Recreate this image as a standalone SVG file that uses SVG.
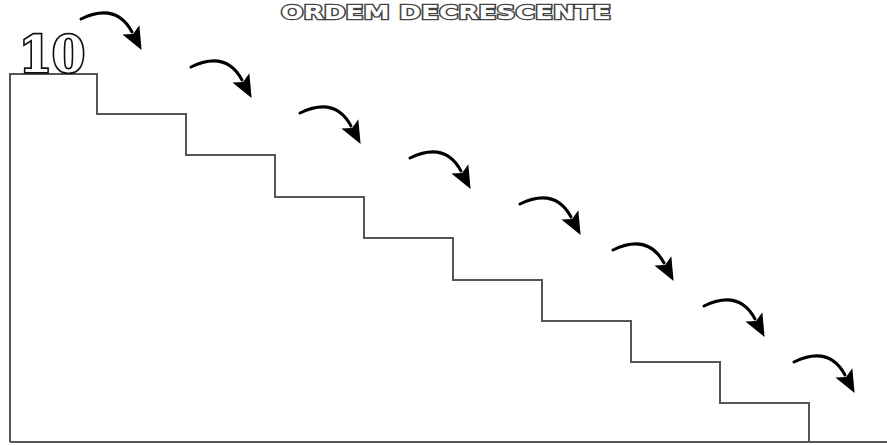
<svg xmlns="http://www.w3.org/2000/svg" width="887" height="445" viewBox="0 0 887 445">
<style>
.stair{fill:none;stroke:#555;stroke-width:2}
.arr{fill:none;stroke:#000;stroke-width:3;stroke-linecap:round}
.title{font-family:"DejaVu Sans",sans-serif;font-weight:bold;fill:#fff;stroke:#444;stroke-width:2.6;paint-order:stroke}
.num{font-family:"DejaVu Serif",serif;font-weight:bold;fill:#fff;stroke:#111;stroke-width:3.5;paint-order:stroke}
</style>
<defs>
<marker id="ah" markerUnits="userSpaceOnUse" markerWidth="24" markerHeight="24" viewBox="0 -10 20 20" refX="2" refY="0" orient="auto">
<path d="M0,-8 L19,0 L0,8 L4,0 Z" fill="#000"/>
</marker>
</defs>
<rect width="887" height="445" fill="#fff"/>
<text class="title" x="446" y="19" font-size="20" text-anchor="middle" textLength="330" lengthAdjust="spacingAndGlyphs">ORDEM DECRESCENTE</text>
<g id="stairs">
<path class="stair" d="M10,442 V74 H97 V114 H186 V155 H275 V197 H364 V238 H453 V280 H542 V321 H631 V362 H720 V403 H809 V442 M10,442 H887"/>
</g>
<g id="label10">
<text class="num" x="52" y="72" font-size="50" text-anchor="middle" textLength="66" lengthAdjust="spacingAndGlyphs">10</text>
</g>
<g id="arrows">
<path class="arr" marker-end="url(#ah)" transform="translate(81,19)" d="M0,0 Q35,-17 51,13"/>
<path class="arr" marker-end="url(#ah)" transform="translate(191,67)" d="M0,0 Q35,-17 51,13"/>
<path class="arr" marker-end="url(#ah)" transform="translate(300,113)" d="M0,0 Q35,-17 51,13"/>
<path class="arr" marker-end="url(#ah)" transform="translate(410,158)" d="M0,0 Q35,-17 51,13"/>
<path class="arr" marker-end="url(#ah)" transform="translate(520,204)" d="M0,0 Q35,-17 51,13"/>
<path class="arr" marker-end="url(#ah)" transform="translate(613,250)" d="M0,0 Q35,-17 51,13"/>
<path class="arr" marker-end="url(#ah)" transform="translate(704,306)" d="M0,0 Q35,-17 51,13"/>
<path class="arr" marker-end="url(#ah)" transform="translate(794,362)" d="M0,0 Q35,-17 51,13"/>
</g>
</svg>
